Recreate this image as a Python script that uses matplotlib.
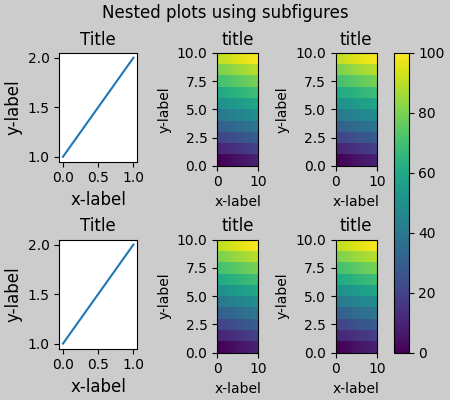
import matplotlib
matplotlib.use('Agg')
import matplotlib.pyplot as plt
import numpy as np

# line panels
line_x = [0, 1]
line_y = [1, 2]

# heatmap cells, row by row from the bottom
cell_values = [
    [0, 1, 2, 3, 4, 5, 6, 7, 8, 9],
    [10, 11, 12, 13, 14, 15, 16, 17, 18, 19],
    [20, 21, 22, 23, 24, 25, 26, 27, 28, 29],
    [30, 31, 32, 33, 34, 35, 36, 37, 38, 39],
    [40, 41, 42, 43, 44, 45, 46, 47, 48, 49],
    [50, 51, 52, 53, 54, 55, 56, 57, 58, 59],
    [60, 61, 62, 63, 64, 65, 66, 67, 68, 69],
    [70, 71, 72, 73, 74, 75, 76, 77, 78, 79],
    [80, 81, 82, 83, 84, 85, 86, 87, 88, 89],
    [90, 91, 92, 93, 94, 95, 96, 97, 98, 99],
]
cbar_ticks = [0, 20, 40, 60, 80, 100]


def example_plot(ax, fontsize=12):
    ax.plot(line_x, line_y)
    ax.locator_params(nbins=3)
    ax.set_xlabel('x-label', fontsize=fontsize)
    ax.set_ylabel('y-label', fontsize=fontsize)
    ax.set_title('Title', fontsize=fontsize)


def main():
    arr = np.array(cell_values)
    fig = plt.figure(layout='constrained', figsize=(4.5, 4), facecolor='0.8')
    sfigs = fig.subfigures(1, 2, width_ratios=[1, 2])
    for sf in sfigs:
        sf.set_facecolor('0.8')

    axs_left = sfigs[0].subplots(2, 1)
    for ax in axs_left:
        example_plot(ax)

    axs_right = sfigs[1].subplots(2, 2)
    for ax in axs_right.flat:
        pcm = ax.pcolormesh(arr, cmap='viridis', vmin=0, vmax=100, rasterized=True)
        ax.set_xlabel('x-label')
        ax.set_ylabel('y-label')
        ax.set_title('title')
    cb = sfigs[1].colorbar(pcm, ax=axs_right)
    cb.set_ticks(cbar_ticks)

    fig.suptitle('Nested plots using subfigures')
    fig.savefig('out.png', dpi=100, facecolor=fig.get_facecolor())


if __name__ == '__main__':
    main()
